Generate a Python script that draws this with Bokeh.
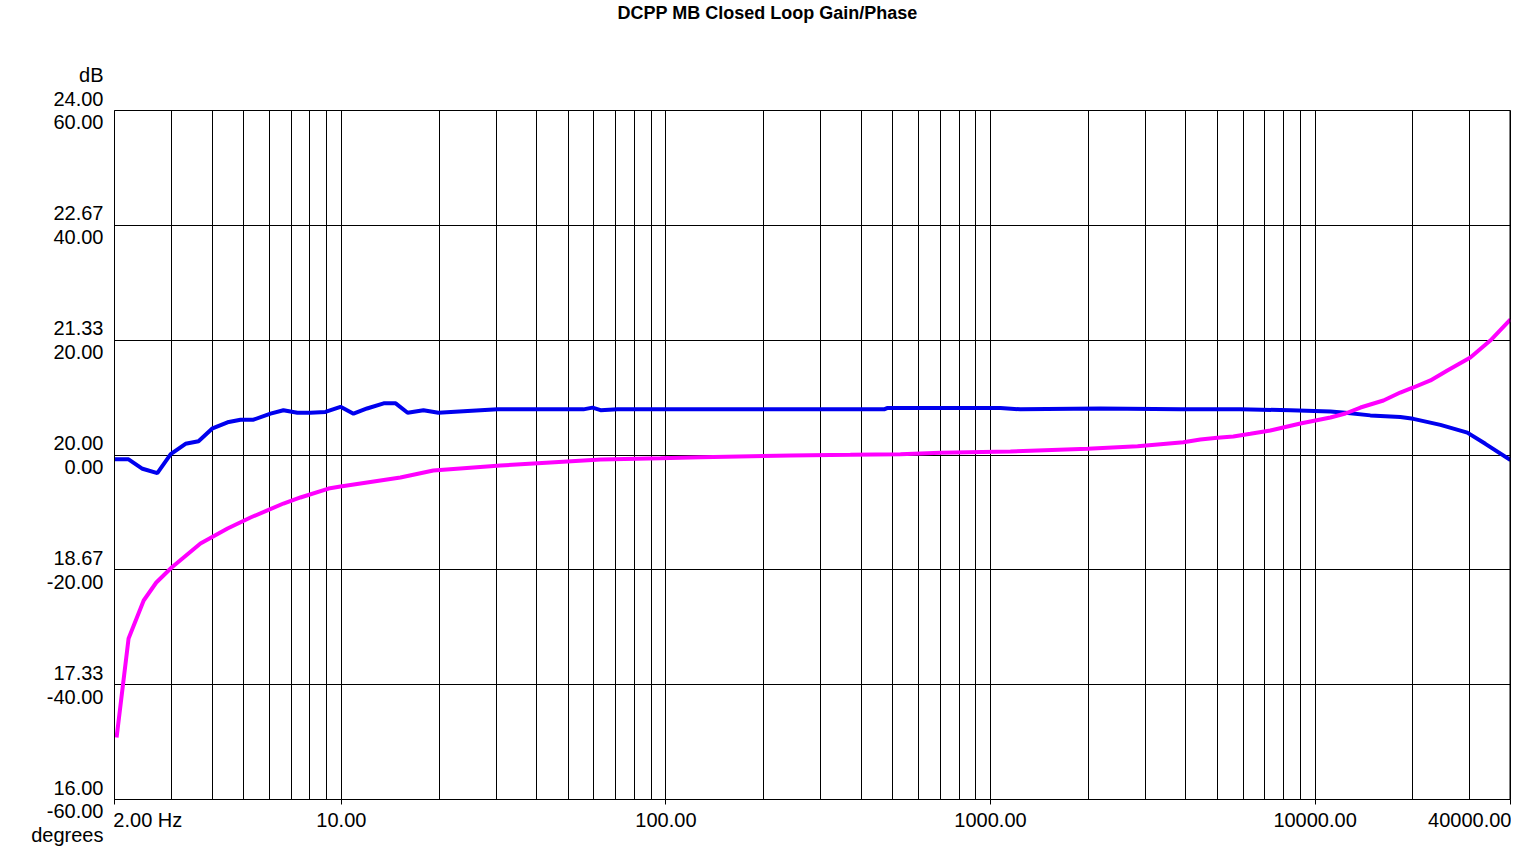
from bokeh.plotting import figure
from bokeh.models import Range1d, FixedTicker, Span
from bokeh.embed import file_html
from bokeh.resources import INLINE

# ---------------- data ----------------
title_text = "DCPP MB Closed Loop Gain/Phase"

gain_freq = [2.0, 2.21, 2.44, 2.71, 2.98, 3.31, 3.63, 4.01, 4.46, 4.89, 5.36, 6.05,
             6.63, 7.32, 8.03, 8.93, 9.94, 10.9, 12.0, 13.5, 14.7, 16.0, 17.9, 19.9,
             24.5, 30.3, 55.7, 59.4, 62.9, 70.9, 470, 480, 1073, 1236, 2180, 3846,
             5889, 8395, 11150, 12400, 14800, 18300, 20080, 24330, 29450, 33460, 40000]
gain_db = [19.95, 19.95, 19.84, 19.79, 20.01, 20.13, 20.16, 20.31, 20.38, 20.41, 20.41, 20.48,
           20.52, 20.49, 20.49, 20.50, 20.56, 20.48, 20.54, 20.60, 20.60, 20.49, 20.52, 20.49,
           20.51, 20.53, 20.53, 20.55, 20.52, 20.53, 20.53, 20.545, 20.545, 20.53, 20.54, 20.53,
           20.53, 20.52, 20.505, 20.49, 20.46, 20.44, 20.42, 20.35, 20.26, 20.13, 19.94]

phase_freq = [2.03, 2.21, 2.46, 2.69, 3.0, 3.68, 4.46, 5.25, 6.63, 7.48, 9.13, 9.94,
              15.2, 19.2, 30.9, 44.1, 62.9, 96.2, 128, 242, 370, 528, 701, 1152,
              1991, 2839, 3929, 4432, 5001, 5600, 6320, 7280, 9010, 11150, 12400, 13800,
              16240, 18300, 20080, 22670, 25560, 30090, 34660, 40000]
phase_deg = [-49.2, -31.96, -25.34, -22.21, -19.60, -15.42, -12.80, -10.89, -8.45, -7.40, -5.84, -5.49,
             -3.92, -2.70, -1.83, -1.31, -0.80, -0.56, -0.38, -0.09, 0.03, 0.14, 0.38, 0.61,
             1.08, 1.53, 2.23, 2.70, 3.00, 3.22, 3.69, 4.27, 5.48, 6.53, 7.23, 8.27,
             9.49, 10.88, 11.76, 12.98, 14.72, 16.98, 19.94, 23.6]

x_min, x_max = 2, 40000
deg_min, deg_max = -60, 60
db_min, db_max = 16, 24

deg_ticks = [-60, -40, -20, 0, 20, 40, 60]
deg_labels = ["-60.00", "-40.00", "-20.00", "0.00", "20.00", "40.00", "60.00"]
db_labels = ["16.00", "17.33", "18.67", "20.00", "21.33", "22.67", "24.00"]
y_top_name = "dB"
y_bottom_name = "degrees"

x_label_ticks = [2, 10, 100, 1000, 10000, 40000]
x_label_text = ["2.00 Hz", "10.00", "100.00", "1000.00", "10000.00", "40000.00"]
x_grid_ticks = ([3, 4, 5, 6, 7, 8, 9, 10]
                + [20, 30, 40, 50, 60, 70, 80, 90, 100]
                + [200, 300, 400, 500, 600, 700, 800, 900, 1000]
                + [2000, 3000, 4000, 5000, 6000, 7000, 8000, 9000, 10000]
                + [20000, 30000])

FONT = "Liberation Sans"
NB = "\u00a0"

# ---------------- figure ----------------
p = figure(x_axis_type="log",
           x_range=Range1d(x_min, x_max), y_range=Range1d(deg_min, deg_max),
           frame_width=1396, frame_height=689,
           min_border_left=114, min_border_right=1, min_border_top=110, min_border_bottom=52,
           output_backend="svg", toolbar_location=None,
           background_fill_color="white", border_fill_color="white")
p.extra_y_ranges = {"db": Range1d(db_min, db_max)}

p.outline_line_color = "black"
p.outline_line_width = 1
p.outline_line_alpha = 1

# title (first line of a block that fills the top border, so it sits at the top)
p.title.text = title_text + ("\n" + NB) * 4
p.title.text_font = FONT
p.title.text_font_size = "18px"
p.title.text_font_style = "bold"
p.title.text_color = "black"
p.title.text_line_height = 1.1
p.title.align = "left"
p.title.offset = 503
p.title.standoff = 0

# left axis: stacked dB / degrees labels on each grid line
ya = p.yaxis[0]
ya.ticker = FixedTicker(ticks=deg_ticks)
overrides = {}
for i, (d, ld, lb) in enumerate(zip(deg_ticks, deg_labels, db_labels)):
    if i == len(deg_ticks) - 1:
        overrides[d] = f"{y_top_name}\n{lb}\n{ld}\n{NB}"
    elif i == 0:
        overrides[d] = f"{NB}\n{lb}\n{ld}\n{y_bottom_name}"
    else:
        overrides[d] = f"{lb}\n{ld}"
ya.major_label_overrides = overrides
ya.major_label_text_font = FONT
ya.major_label_text_font_size = "20px"
ya.major_label_text_color = "black"
ya.major_label_text_line_height = 1.08
ya.major_label_standoff = 11
ya.axis_line_color = "black"
ya.major_tick_out = 0
ya.major_tick_in = 0
ya.minor_tick_line_color = None

# bottom axis
xa = p.xaxis[0]
xa.ticker = FixedTicker(ticks=x_label_ticks)
xo = {}
for t, s in zip(x_label_ticks, x_label_text):
    if t == x_min:
        xo[t] = NB * 12 + s
    else:
        xo[t] = s
xa.major_label_overrides = xo
xa.major_label_text_font = FONT
xa.major_label_text_font_size = "20px"
xa.major_label_text_color = "black"
xa.major_label_standoff = 4
xa.axis_line_color = "black"
xa.major_tick_line_color = "black"
xa.major_tick_out = 5
xa.major_tick_in = 0
xa.minor_tick_line_color = None

# grids
p.xgrid.ticker = FixedTicker(ticks=x_grid_ticks)
p.xgrid.grid_line_color = "black"
p.xgrid.grid_line_alpha = 1
p.xgrid.grid_line_width = 1
p.ygrid.ticker = FixedTicker(ticks=deg_ticks[1:-1])
p.ygrid.grid_line_color = "black"
p.ygrid.grid_line_alpha = 1
p.ygrid.grid_line_width = 1

p.add_layout(Span(location=x_max, dimension="height", line_color="black", line_width=2))

# data lines
p.line(gain_freq, gain_db, y_range_name="db", line_color="#0000ee", line_width=4)
p.line(phase_freq, phase_deg, line_color="#ff00ff", line_width=4)

open("out.html", "w").write(file_html(p, INLINE))
